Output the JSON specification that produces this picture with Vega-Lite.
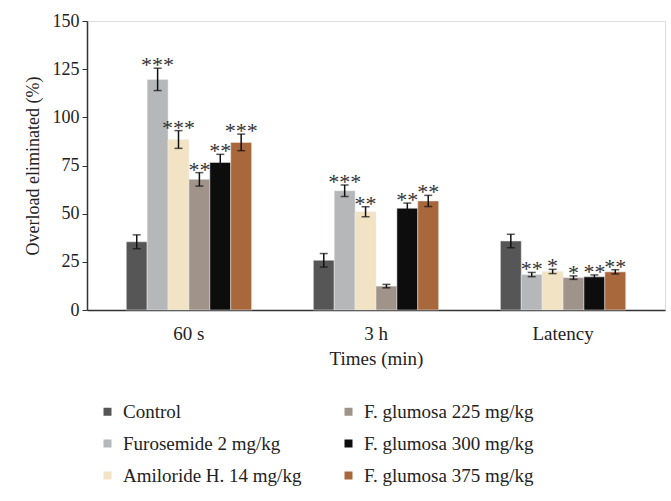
{
  "$schema": "https://vega.github.io/schema/vega-lite/v6.json",
  "autosize": {"type": "none"},
  "padding": {"left": 87, "top": 21, "right": 6, "bottom": 191},
  "width": 578,
  "height": 289,
  "background": "white",
  "data": {"values": [
    {"time": "60 s", "group": "Control", "value": 35.4, "err": 3.6, "stars": ""},
    {"time": "60 s", "group": "Furosemide 2 mg/kg", "value": 119.7, "err": 5.8, "stars": "***"},
    {"time": "60 s", "group": "Amiloride H. 14 mg/kg", "value": 88.5, "err": 4.6, "stars": "***"},
    {"time": "60 s", "group": "F. glumosa 225 mg/kg", "value": 67.8, "err": 3.5, "stars": "**"},
    {"time": "60 s", "group": "F. glumosa 300 mg/kg", "value": 76.6, "err": 4.2, "stars": "**"},
    {"time": "60 s", "group": "F. glumosa 375 mg/kg", "value": 87.0, "err": 4.3, "stars": "***"},
    {"time": "3 h", "group": "Control", "value": 25.8, "err": 3.5, "stars": ""},
    {"time": "3 h", "group": "Furosemide 2 mg/kg", "value": 61.9, "err": 3.0, "stars": "***"},
    {"time": "3 h", "group": "Amiloride H. 14 mg/kg", "value": 51.0, "err": 2.6, "stars": "**"},
    {"time": "3 h", "group": "F. glumosa 225 mg/kg", "value": 12.4, "err": 0.9, "stars": ""},
    {"time": "3 h", "group": "F. glumosa 300 mg/kg", "value": 52.8, "err": 2.7, "stars": "**"},
    {"time": "3 h", "group": "F. glumosa 375 mg/kg", "value": 56.6, "err": 2.9, "stars": "**"},
    {"time": "Latency", "group": "Control", "value": 35.8, "err": 3.5, "stars": ""},
    {"time": "Latency", "group": "Furosemide 2 mg/kg", "value": 18.4, "err": 1.1, "stars": "**"},
    {"time": "Latency", "group": "Amiloride H. 14 mg/kg", "value": 20.0, "err": 1.1, "stars": "*"},
    {"time": "Latency", "group": "F. glumosa 225 mg/kg", "value": 16.8, "err": 0.9, "stars": "*"},
    {"time": "Latency", "group": "F. glumosa 300 mg/kg", "value": 17.2, "err": 1.0, "stars": "**"},
    {"time": "Latency", "group": "F. glumosa 375 mg/kg", "value": 19.8, "err": 1.1, "stars": "**"}
  ]},
  "transform": [
    {"calculate": "datum.value - datum.err", "as": "low"},
    {"calculate": "datum.value + datum.err", "as": "high"}
  ],
  "encoding": {
    "x": {
      "field": "time", "type": "nominal", "sort": ["60 s", "3 h", "Latency"],
      "scale": {"paddingInner": 0.33, "paddingOuter": 0.21},
      "axis": {"title": "Times (min)", "labelAngle": 0, "ticks": false, "labelPadding": 14,
        "labelFont": "Liberation Serif", "labelFontSize": 19, "labelColor": "#222",
        "titleFont": "Liberation Serif", "titleFontSize": 19, "titleFontWeight": "normal", "titleColor": "#222",
        "titlePadding": 6, "domainColor": "#333", "domainWidth": 1.5}
    },
    "xOffset": {
      "field": "group", "type": "nominal",
      "scale": {"domain": ["Control", "Furosemide 2 mg/kg", "Amiloride H. 14 mg/kg", "F. glumosa 225 mg/kg", "F. glumosa 300 mg/kg", "F. glumosa 375 mg/kg"], "paddingInner": 0, "paddingOuter": 0}
    }
  },
  "layer": [
    {
      "mark": {"type": "bar", "stroke": "#eeeeee", "strokeWidth": 0.5},
      "encoding": {
        "y": {
          "field": "value", "type": "quantitative",
          "scale": {"domain": [0, 150], "nice": false},
          "axis": {"title": "Overload eliminated (%)", "values": [0, 25, 50, 75, 100, 125, 150], "grid": false,
            "tickSize": 5, "tickColor": "#333", "labelPadding": 3,
            "labelFont": "Liberation Serif", "labelFontSize": 18, "labelColor": "#222",
            "titleFont": "Liberation Serif", "titleFontSize": 18, "titleFontWeight": "normal", "titleColor": "#222",
            "titlePadding": 10, "domainColor": "#333", "domainWidth": 1.5}
        },
        "color": {
          "field": "group", "type": "nominal",
          "scale": {
            "domain": ["Control", "F. glumosa 225 mg/kg", "Furosemide 2 mg/kg", "F. glumosa 300 mg/kg", "Amiloride H. 14 mg/kg", "F. glumosa 375 mg/kg"],
            "range": ["#565656", "#a0938a", "#b5b7b9", "#0d0d0d", "#f1e3c3", "#a8683c"]
          },
          "legend": {
            "title": null, "orient": "none", "legendX": 11, "legendY": 381,
            "columns": 2, "direction": "horizontal", "symbolType": "square", "symbolSize": 64,
            "symbolStrokeWidth": 0, "labelFont": "Liberation Serif", "labelFontSize": 19, "labelColor": "#222",
            "labelLimit": 400, "labelOffset": 6, "rowPadding": 12, "columnPadding": 37, "gridAlign": "each"
          }
        }
      }
    },
    {
      "mark": {"type": "rule", "color": "#111", "strokeWidth": 1.5},
      "encoding": {"y": {"field": "low", "type": "quantitative"}, "y2": {"field": "high"}}
    },
    {
      "mark": {"type": "tick", "color": "#111", "thickness": 1.5, "size": 8},
      "encoding": {"y": {"field": "low", "type": "quantitative"}}
    },
    {
      "mark": {"type": "tick", "color": "#111", "thickness": 1.5, "size": 8},
      "encoding": {"y": {"field": "high", "type": "quantitative"}}
    },
    {
      "mark": {"type": "text", "font": "Liberation Serif", "fontSize": 22, "color": "#333", "baseline": "alphabetic", "dy": 4},
      "encoding": {"y": {"field": "high", "type": "quantitative"}, "text": {"field": "stars"}}
    }
  ]
}
